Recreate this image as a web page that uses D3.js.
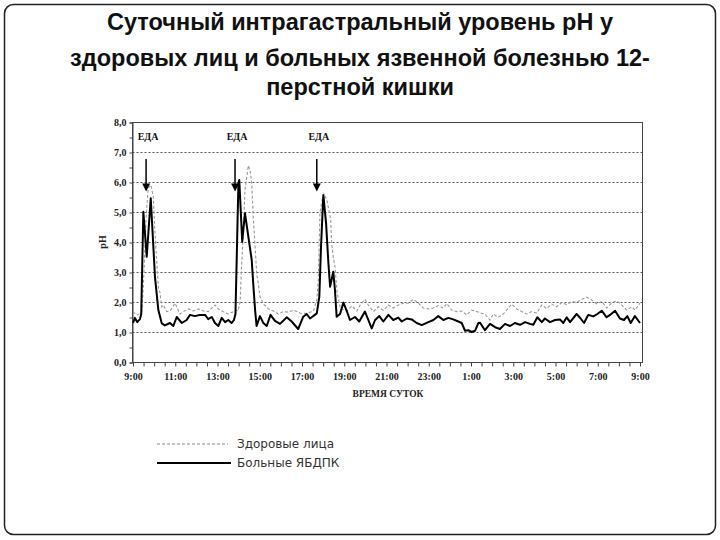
<!DOCTYPE html>
<html><head><meta charset="utf-8">
<script src="https://cdn.jsdelivr.net/npm/d3@7"></script>
<style>body{margin:0;background:#fff}svg{display:block}</style>
</head><body>
<svg id="c" width="720" height="540"></svg>
<script>
const titleLines = ["Суточный интрагастральный уровень pH у","здоровых лиц и больных язвенной болезнью 12-","перстной кишки"];
const seriesNames = ["Здоровые лица","Больные ЯБДПК"];
const yTicks = [0,1,2,3,4,5,6,7,8];
const xLabelHours = [0,2,4,6,8,10,12,14,16,18,20,22,24];
const mealTimes = [0.62, 4.83, 8.7];
const mealLabel = "ЕДА";
// hours after 9:00, pH
const healthyT = [0,0.18,0.33,0.43,0.52,0.62,0.72,0.85,0.96,1.04,1.12,1.2,1.28,1.36,1.43,1.6,1.75,1.99,2.22,2.38,2.62,2.85,3.09,3.33,3.56,3.88,4.04,4.27,4.51,4.75,4.88,4.97,5.07,5.14,5.22,5.3,5.46,5.54,5.62,5.69,5.78,5.86,5.93,6.01,6.09,6.17,6.33,6.41,6.64,6.88,7.11,7.35,7.59,7.91,8.22,8.54,8.7,8.77,8.85,8.95,9.04,9.18,9.36,9.4,9.48,9.56,9.66,9.82,10.12,10.36,10.6,10.75,10.98,11.14,11.38,11.61,11.85,12.09,12.32,12.56,12.8,13.03,13.27,13.51,13.74,13.98,14.22,14.45,14.69,14.85,15.09,15.32,15.56,15.8,16.03,16.27,16.43,16.66,16.9,17.06,17.29,17.53,17.77,17.93,18.16,18.4,18.64,18.87,19.11,19.35,19.58,19.82,20.06,20.29,20.53,20.77,21,21.24,21.48,21.71,21.95,22.19,22.42,22.66,22.9,23.13,23.37,23.61,23.76,24];
const healthyPH = [1.68,1.57,1.62,1.7,3.0,4.8,5.8,5.9,5.5,4.3,3.4,2.5,2.3,1.84,1.9,1.68,1.7,1.96,1.6,1.68,1.77,1.7,1.77,1.7,1.68,1.9,1.77,1.68,1.6,1.68,1.73,1.7,2.0,3.2,4.3,5.73,6.55,6.4,5.96,4.84,3.84,2.9,2.63,2.18,2.07,1.93,1.84,1.77,1.7,1.6,1.68,1.66,1.73,1.63,1.62,1.7,2.07,2.73,4.96,5.4,5.6,5.4,4.73,4.0,3.5,3.18,2.34,1.77,1.7,1.87,1.7,1.9,2.09,1.9,1.68,1.84,1.72,1.9,1.8,1.9,1.96,1.96,2.09,1.96,1.8,1.77,1.8,1.88,1.8,1.95,1.73,1.68,1.7,1.57,1.73,1.68,1.64,1.6,1.4,1.6,1.49,1.6,1.8,1.93,1.77,1.68,1.6,1.68,1.63,1.9,1.78,1.93,1.84,1.98,1.91,2.02,1.98,2.09,2.16,2.07,1.94,2.02,1.8,1.97,2.04,1.9,1.73,1.84,1.73,1.96];
const patientT = [0,0.09,0.2,0.33,0.39,0.49,0.65,0.84,1.04,1.2,1.36,1.51,1.75,1.91,2.07,2.31,2.54,2.7,2.93,3.17,3.41,3.56,3.73,3.88,4.04,4.2,4.36,4.51,4.67,4.78,4.85,4.99,5.03,5.17,5.3,5.46,5.62,5.69,5.78,5.85,6.01,6.17,6.33,6.51,6.72,6.96,7.28,7.51,7.82,8.06,8.22,8.38,8.7,8.82,8.9,9.01,9.14,9.25,9.33,9.48,9.56,9.64,9.8,9.96,10.12,10.27,10.51,10.71,10.98,11.14,11.3,11.46,11.66,11.85,12.09,12.32,12.56,12.72,12.96,13.19,13.43,13.67,13.98,14.22,14.45,14.69,14.93,15.16,15.4,15.56,15.72,15.87,16.03,16.19,16.35,16.43,16.66,16.9,17.14,17.37,17.61,17.85,18.08,18.32,18.56,18.79,18.95,19.14,19.35,19.5,19.74,19.98,20.21,20.37,20.53,20.69,21,21.19,21.35,21.55,21.79,21.98,22.19,22.42,22.58,22.82,23.05,23.24,23.4,23.56,23.76,24];
const patientPH = [1.3,1.47,1.33,1.43,1.6,5.01,3.51,5.46,2.84,1.73,1.29,1.22,1.3,1.2,1.5,1.3,1.4,1.57,1.53,1.57,1.57,1.43,1.5,1.3,1.2,1.47,1.33,1.4,1.3,1.4,1.6,5.96,6.07,4.01,4.96,4.18,3.4,2.63,1.73,1.2,1.53,1.3,1.2,1.57,1.37,1.27,1.49,1.35,1.1,1.51,1.6,1.45,1.62,2.18,3.84,5.57,4.62,3.29,2.51,3.01,2.4,1.51,1.6,1.98,1.7,1.4,1.5,1.35,1.68,1.4,1.12,1.4,1.53,1.35,1.57,1.4,1.48,1.35,1.45,1.42,1.3,1.23,1.33,1.4,1.53,1.4,1.47,1.42,1.35,1.3,1.04,1.06,1.0,1.04,1.3,1.31,1.06,1.27,1.16,1.1,1.27,1.2,1.3,1.24,1.33,1.27,1.24,1.49,1.33,1.45,1.33,1.4,1.42,1.3,1.49,1.33,1.6,1.45,1.3,1.57,1.52,1.6,1.71,1.49,1.57,1.71,1.45,1.4,1.53,1.3,1.53,1.3];

const svg = d3.select("#c");
// outer rounded frame
svg.append("rect").attr("x",4.5).attr("y",4.5).attr("width",711).attr("height",530)
  .attr("rx",9).attr("fill","#fff").attr("stroke","#222").attr("stroke-width",1.5);

// title
svg.append("g").selectAll("text").data(titleLines).join("text")
  .attr("x",360).attr("y",(d,i)=>[30,66,95][i]).attr("text-anchor","middle")
  .attr("font-family","'Liberation Sans', Arial, sans-serif").attr("font-weight","bold")
  .attr("font-size",23.5).attr("fill","#111").text(d=>d);

const x = d3.scaleLinear().domain([0,24]).range([133,640]);
const y = d3.scaleLinear().domain([0,8]).range([362,122]);
const serif = "'Liberation Serif','Times New Roman',serif";

// grid
svg.append("g").selectAll("line").data(yTicks.filter(v=>v>0&&v<8)).join("line")
  .attr("x1",132.5).attr("x2",642.5).attr("y1",d=>Math.round(y(d))+0.5).attr("y2",d=>Math.round(y(d))+0.5)
  .attr("stroke","#555").attr("stroke-width",1).attr("stroke-dasharray","2,2");

// frame
svg.append("rect").attr("x",132.5).attr("y",122.5).attr("width",510).attr("height",240)
  .attr("fill","none").attr("stroke","#444").attr("stroke-width",1);

// y axis
const yAxis = d3.axisLeft(y).tickValues(d3.range(0,8.01,0.5)).tickSize(3).tickPadding(3)
  .tickFormat(v=> Number.isInteger(v) ? d3.format(".1f")(v).replace(".",",") : "");
const gy = svg.append("g").attr("transform","translate(132.5,0.5)").call(yAxis);
gy.select(".domain").attr("stroke","#444");
gy.selectAll(".tick line").attr("stroke","#444");
gy.selectAll("text").attr("font-family",serif).attr("font-weight","bold").attr("font-size",10).attr("fill","#222");

// x axis
const xAxis = d3.axisBottom(x).tickValues(d3.range(0,24.01,0.5)).tickSize(4).tickPadding(6)
  .tickFormat(v=> xLabelHours.includes(v) ? ((9+v)%24)+":00" : "");
const gx = svg.append("g").attr("transform","translate(0,362.5)").call(xAxis);
gx.select(".domain").remove();
gx.selectAll(".tick line").attr("stroke","#444");
gx.selectAll("text").attr("font-family",serif).attr("font-weight","bold").attr("font-size",10).attr("fill","#222");

svg.append("text").attr("x",388).attr("y",397).attr("text-anchor","middle")
  .attr("font-family",serif).attr("font-weight","bold").attr("font-size",9.5).attr("fill","#222").text("ВРЕМЯ СУТОК");
svg.append("text").attr("transform","translate(106,242) rotate(-90)").attr("text-anchor","middle")
  .attr("font-family",serif).attr("font-weight","bold").attr("font-size",10).attr("fill","#222").text("pH");

// lines
const line = d3.line().x(d=>x(d[0])).y(d=>y(d[1]));
const healthy = healthyT.map((t,i)=>[t,healthyPH[i]]);
const patient = patientT.map((t,i)=>[t,patientPH[i]]);
svg.append("path").datum(healthy).attr("d",line).attr("fill","none")
  .attr("stroke","#9a9a9a").attr("stroke-width",1.1).attr("stroke-dasharray","3,2");
svg.append("path").datum(patient).attr("d",line).attr("fill","none")
  .attr("stroke","#000").attr("stroke-width",2).attr("stroke-linejoin","round");

// meal arrows
const mg = svg.append("g");
mealTimes.forEach(t=>{
  const ax = x(t);
  mg.append("line").attr("x1",ax).attr("x2",ax).attr("y1",y(6.77)).attr("y2",y(5.85))
    .attr("stroke","#000").attr("stroke-width",1.5);
  mg.append("path").attr("d",`M${ax-4},${y(5.95)}L${ax+4},${y(5.95)}L${ax},${y(5.68)}Z`).attr("fill","#000");
  mg.append("text").attr("x",ax+2).attr("y",y(7.53)+4).attr("text-anchor","middle")
    .attr("font-family",serif).attr("font-weight","bold").attr("font-size",10).attr("fill","#111").text(mealLabel);
});

// legend
const lg = svg.append("g");
lg.append("line").attr("x1",157).attr("x2",228).attr("y1",444).attr("y2",444)
  .attr("stroke","#888").attr("stroke-width",1).attr("stroke-dasharray","3,2");
lg.append("line").attr("x1",157).attr("x2",231).attr("y1",463).attr("y2",463)
  .attr("stroke","#000").attr("stroke-width",2);
lg.selectAll("text").data(seriesNames).join("text")
  .attr("x",237).attr("y",(d,i)=>448+i*19).attr("font-family","'DejaVu Sans',Verdana,sans-serif")
  .attr("font-size",12).attr("fill","#333").text(d=>d);
</script>
</body></html>
